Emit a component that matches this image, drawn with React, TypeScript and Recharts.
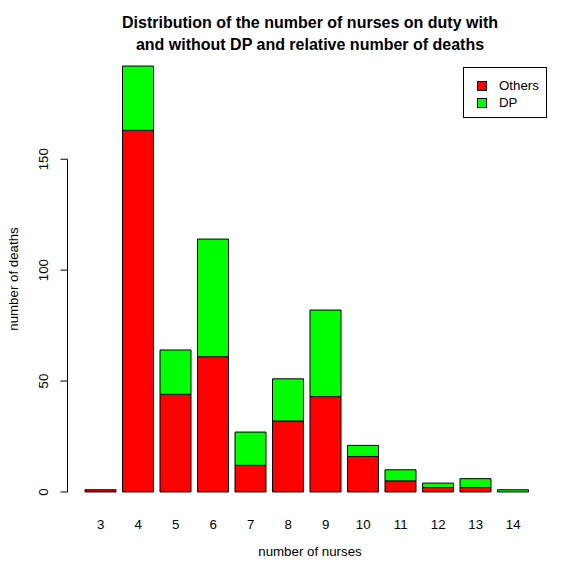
import React from "react";
import { BarChart, Bar, XAxis, YAxis } from "recharts";

const nurses = ["3", "4", "5", "6", "7", "8", "9", "10", "11", "12", "13", "14"];
const others = [1, 163, 44, 61, 12, 32, 43, 16, 5, 2, 2, 0];
const dp = [0, 29, 20, 53, 15, 19, 39, 5, 5, 2, 4, 1];
const yTicks = [0, 50, 100, 150];
const Y_MIN = -7.68;
const Y_MAX = 199.68;

const data = nurses.map((n, i) => ({ n, Others: others[i], DP: dp[i] }));

const FONT = "'Liberation Sans', Arial, Helvetica, sans-serif";
const FS = 13.3;

const CHART_H = 581;
const MARGIN = { top: 49, bottom: 42, left: 27, right: 28 };
const X_AXIS_H = 30;
const PLOT_H = CHART_H - MARGIN.top - MARGIN.bottom - X_AXIS_H;
const PX_PER_UNIT = PLOT_H / (Y_MAX - Y_MIN);

const YTick = (props: any) => {
  const { x, y, payload, index } = props;
  const ax = x + 0.5;
  const isLast = index === yTicks.length - 1;
  const next = isLast ? 0 : (yTicks[index + 1] - yTicks[index]) * PX_PER_UNIT;
  return (
    <g>
      <line x1={ax} x2={ax - 7} y1={y} y2={y} stroke="#000" strokeWidth={1} />
      {!isLast && <line x1={ax} x2={ax} y1={y} y2={y - next} stroke="#000" strokeWidth={1} />}
      <text
        x={x - 19}
        y={y}
        transform={`rotate(-90, ${x - 19}, ${y})`}
        textAnchor="middle"
        fontSize={FS}
        fontFamily={FONT}
        fill="#000"
      >
        {payload.value}
      </text>
    </g>
  );
};

const XTick = (props: any) => {
  const { x, y, payload } = props;
  return (
    <text x={x} y={y + 19.5} textAnchor="middle" fontSize={FS} fontFamily={FONT} fill="#000">
      {payload.value}
    </text>
  );
};

const LegendBox = () => (
  <div
    style={{
      position: "absolute",
      left: 463,
      top: 67,
      width: 84,
      height: 51,
      border: "1px solid #000",
      boxSizing: "border-box",
      background: "#fff",
      fontFamily: FONT,
      fontSize: FS,
    }}
  >
    {[
      { name: "Others", color: "#FF0000", top: 13 },
      { name: "DP", color: "#00FF00", top: 30 },
    ].map((e) => (
      <div key={e.name} style={{ position: "absolute", left: 13, top: e.top, display: "flex", alignItems: "center", height: 10 }}>
        <div style={{ width: 10, height: 10, background: e.color, border: "1px solid #000", boxSizing: "border-box" }} />
        <span style={{ marginLeft: 12, lineHeight: "10px" }}>{e.name}</span>
      </div>
    ))}
  </div>
);

export default function App() {
  return (
    <div style={{ position: "absolute", left: 0, top: 0, width: 581, height: 581, background: "#fff" }}>
      <div style={{ position: "absolute", left: 0, top: 0 }}>
        <BarChart
          width={581}
          height={CHART_H}
          data={data}
          margin={MARGIN}
          barSize={31}
        >
          <XAxis
            dataKey="n"
            height={X_AXIS_H}
            axisLine={false}
            tickLine={false}
            tickSize={0}
            tickMargin={0}
            interval={0}
            padding={{ left: 15, right: 21 }}
            tick={<XTick />}
          />
          <YAxis
            width={40}
            type="number"
            domain={[Y_MIN, Y_MAX]}
            ticks={yTicks}
            allowDataOverflow
            axisLine={false}
            tickLine={false}
            tickSize={0}
            tickMargin={0}
            tick={<YTick />}
          />
          <Bar dataKey="Others" stackId="a" fill="#FF0000" stroke="#000" strokeWidth={1} isAnimationActive={false} />
          <Bar dataKey="DP" stackId="a" fill="#00FF00" stroke="#000" strokeWidth={1} isAnimationActive={false} />
        </BarChart>
      </div>
      <div
        style={{
          position: "absolute",
          left: 67,
          width: 486,
          top: 12,
          textAlign: "center",
          fontFamily: FONT,
          fontWeight: "bold",
          fontSize: 16,
          lineHeight: "22px",
        }}
      >
        Distribution of the number of nurses on duty with
        <br />
        and without DP and relative number of deaths
      </div>
      <div
        style={{
          position: "absolute",
          left: 67,
          width: 486,
          top: 544,
          textAlign: "center",
          fontFamily: FONT,
          fontSize: FS,
        }}
      >
        number of nurses
      </div>
      <div
        style={{
          position: "absolute",
          left: 14 - 100,
          top: 279 - 8,
          width: 200,
          height: 16,
          textAlign: "center",
          fontFamily: FONT,
          fontSize: FS,
          lineHeight: "16px",
          transform: "rotate(-90deg)",
        }}
      >
        number of deaths
      </div>
      <LegendBox />
    </div>
  );
}
